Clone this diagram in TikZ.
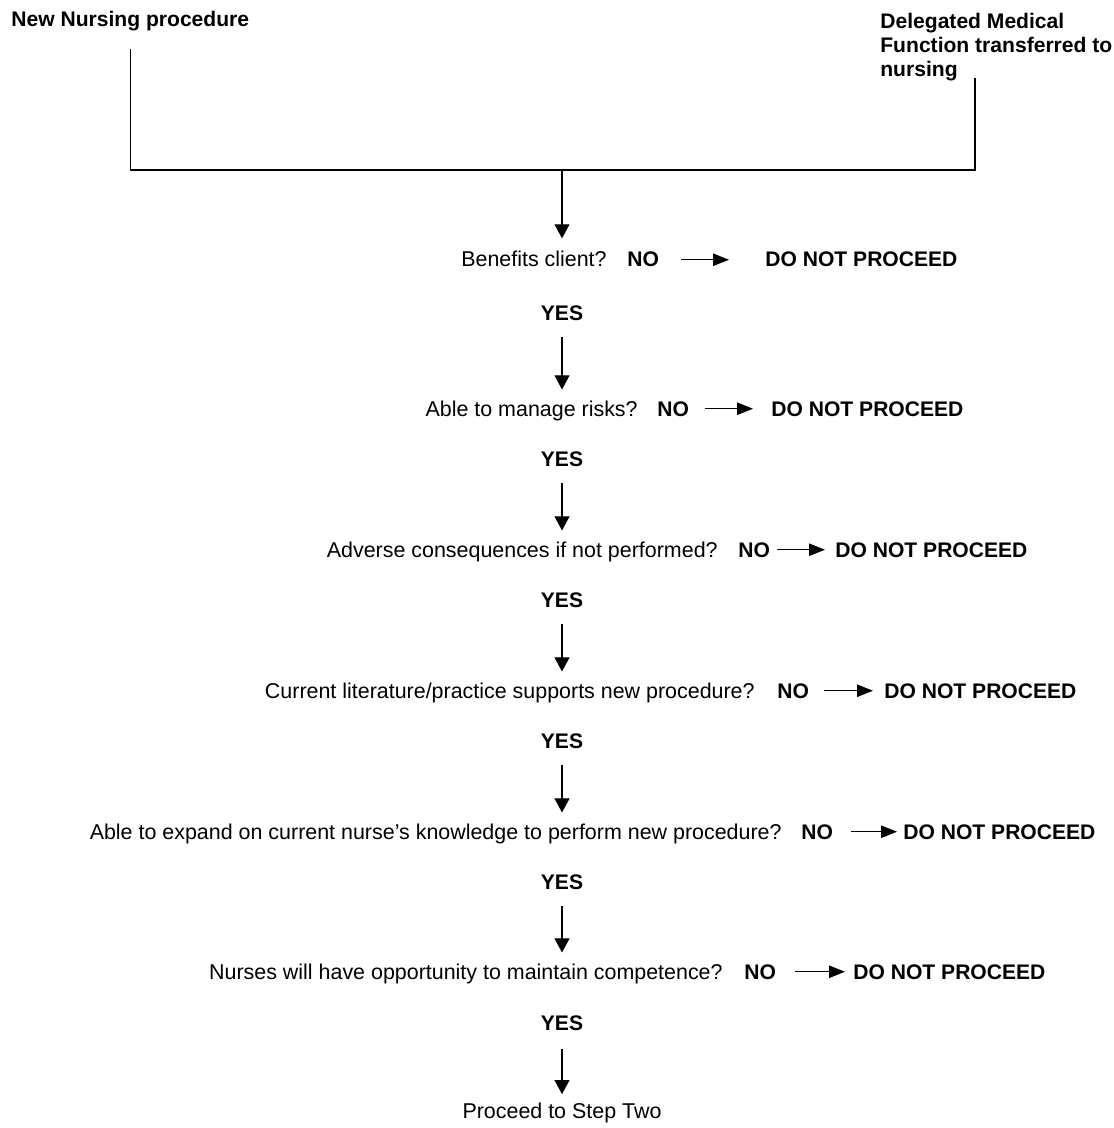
\documentclass[tikz,border=0pt]{standalone}
\usepackage{fontspec}
\setmainfont{Liberation Sans}
\usepackage{tikz}
\usetikzlibrary{arrows.meta}

\begin{document}
\begin{tikzpicture}[x=0.02cm, y=-0.02cm,
        txt/.style     = {inner sep=0pt, font=\fontsize{12.2}{13.6}\selectfont},
        bld/.style     = {inner sep=0pt, font=\fontsize{12}{13.6}\selectfont\bfseries},
        bracket/.style = {line width=0.8pt},
        down/.style    = {line width=0.6pt, -{Triangle[length=8pt,width=8.5pt]}, shorten <=0.33cm, shorten >=0.42cm},
        side/.style    = {line width=0.6pt, -{Triangle[length=9pt,width=7pt]}}]
        \useasboundingbox (0,0) rectangle (1113,1128);

        % the two starting points
        \node [bld, anchor=base west] (newproc) at (11,27) {New Nursing procedure};
        \node [bld, anchor=north west, align=left] (delegated) at (880,13) {Delegated Medical\\Function transferred to\\nursing};
        \coordinate (join) at (562,170);
        \coordinate (delfoot) at (975,78);
        \draw [bracket]  ([yshift=-0.35cm]newproc.south) |- (join) -| (delfoot);

        % question 1
        \node [txt, anchor=base east] (q1)   at (607,267) {Benefits client?};
        \node [bld, anchor=base west] (no1)  at (627,267) {NO};
        \node [bld, anchor=base west] (dnp1) at (765,267) {DO NOT PROCEED};
        \node [bld]                   (yes1) at (562,313) {YES};
        \draw [down, shorten <=0pt]  (join) -- (join |- q1);
        \draw [side, shorten <=0.44cm, shorten >=0.72cm]  (no1) -- (dnp1);

        % question 2
        \node [txt, anchor=base east] (q2)   at (638,416) {Able to manage risks?};
        \node [bld, anchor=base west] (no2)  at (657,416) {NO};
        \node [bld, anchor=base west] (dnp2) at (771,416) {DO NOT PROCEED};
        \node [bld]                   (yes2) at (562,459) {YES};
        \draw [down]  (yes1) -- (yes1 |- q2);
        \draw [side, shorten <=0.32cm, shorten >=0.36cm]  (no2) -- (dnp2);

        % question 3
        \node [txt, anchor=base east] (q3)   at (718,557) {Adverse consequences if not performed?};
        \node [bld, anchor=base west] (no3)  at (738,557) {NO};
        \node [bld, anchor=base west] (dnp3) at (835,557) {DO NOT PROCEED};
        \node [bld]                   (yes3) at (562,600) {YES};
        \draw [down]  (yes2) -- (yes2 |- q3);
        \draw [side, shorten <=0.14cm, shorten >=0.2cm]  (no3) -- (dnp3);

        % question 4
        \node [txt, anchor=base east] (q4)   at (755,698) {Current literature/practice supports new procedure?};
        \node [bld, anchor=base west] (no4)  at (777,698) {NO};
        \node [bld, anchor=base west] (dnp4) at (884,698) {DO NOT PROCEED};
        \node [bld]                   (yes4) at (562,741) {YES};
        \draw [down]  (yes3) -- (yes3 |- q4);
        \draw [side, shorten <=0.3cm, shorten >=0.22cm]  (no4) -- (dnp4);

        % question 5
        \node [txt, anchor=base east] (q5)   at (782,839) {Able to expand on current nurse’s knowledge to perform new procedure?};
        \node [bld, anchor=base west] (no5)  at (801,839) {NO};
        \node [bld, anchor=base west] (dnp5) at (903,839) {DO NOT PROCEED};
        \node [bld]                   (yes5) at (562,882) {YES};
        \draw [down]  (yes4) -- (yes4 |- q5);
        \draw [side, shorten <=0.36cm, shorten >=0.12cm]  (no5) -- (dnp5);

        % question 6
        \node [txt, anchor=base east] (q6)   at (723,979) {Nurses will have opportunity to maintain competence?};
        \node [bld, anchor=base west] (no6)  at (744,979) {NO};
        \node [bld, anchor=base west] (dnp6) at (853,979) {DO NOT PROCEED};
        \node [bld]                   (yes6) at (562,1023) {YES};
        \draw [down]  (yes5) -- (yes5 |- q6);
        \draw [side, shorten <=0.38cm, shorten >=0.16cm]  (no6) -- (dnp6);

        % end
        \node [txt] (step2) at (562,1113) {Proceed to Step Two};
        \draw [down, shorten <=0.37cm, shorten >=0.17cm]  (yes6) -- (step2);
\end{tikzpicture}
\end{document}
